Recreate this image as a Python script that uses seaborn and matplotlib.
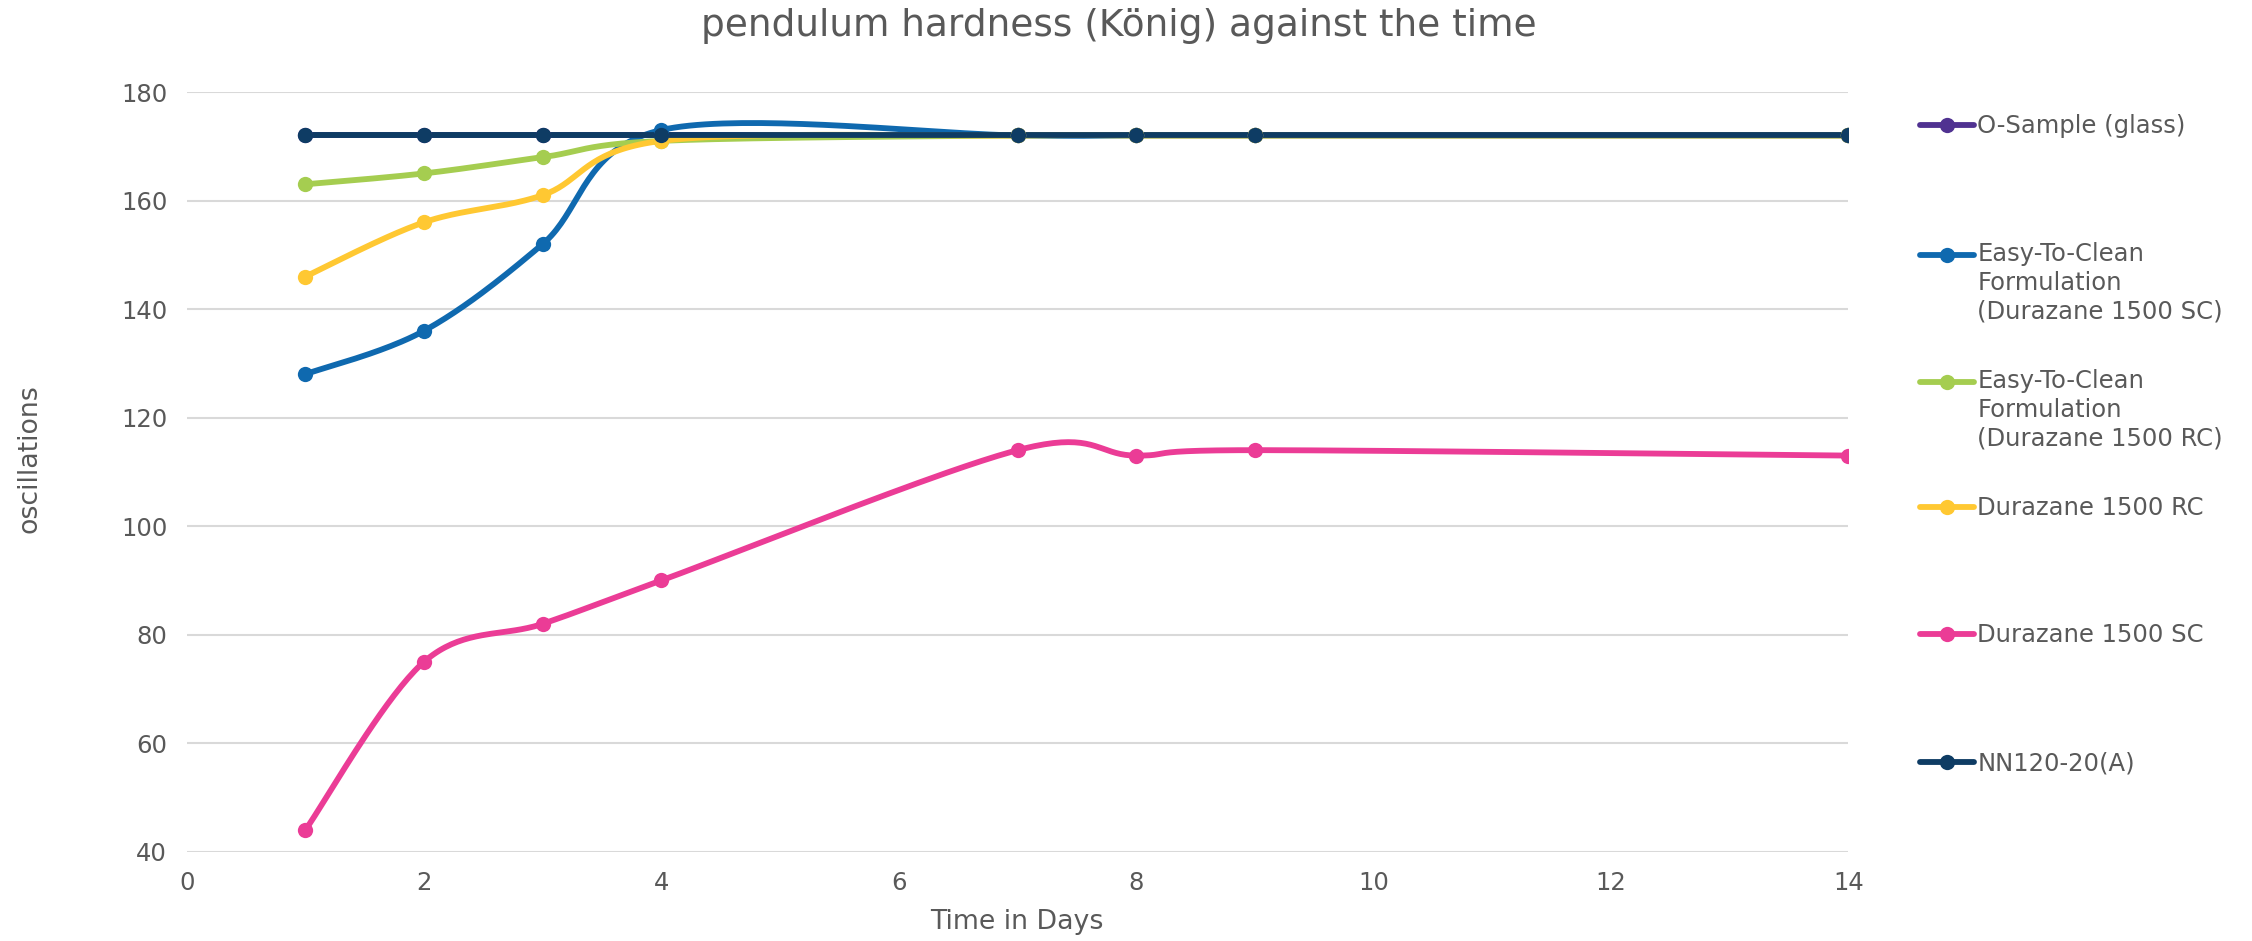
import numpy as np
import pandas as pd
import matplotlib
matplotlib.use("Agg")
import matplotlib.pyplot as plt
from matplotlib.lines import Line2D
import seaborn as sns

# ---- data ----
days = [1, 2, 3, 4, 7, 8, 9, 14]
o_sample = [172, 172, 172, 172, 172, 172, 172, 172]
etc_sc = [128, 136, 152, 173, 172, 172, 172, 172]
etc_rc = [163, 165, 168, 171, 172, 172, 172, 172]
dur_rc = [146, 156, 161, 171, 172, 172, 172, 172]
dur_sc = [44, 75, 82, 90, 114, 113, 114, 113]
nn120 = [172, 172, 172, 172, 172, 172, 172, 172]

series_names = ["O-Sample (glass)",
                "Easy-To-Clean\nFormulation\n(Durazane 1500 SC)",
                "Easy-To-Clean\nFormulation\n(Durazane 1500 RC)",
                "Durazane 1500 RC",
                "Durazane 1500 SC",
                "NN120-20(A)"]
series_values = [o_sample, etc_sc, etc_rc, dur_rc, dur_sc, nn120]
colors = ["#503291", "#0F69AF", "#A5CD50", "#FFC832", "#EB3C96", "#0E3C64"]

title = "pendulum hardness (König) against the time"
x_label = "Time in Days"
y_label = "oscillations"
x_ticks = [0, 2, 4, 6, 8, 10, 12, 14]
y_ticks = [40, 60, 80, 100, 120, 140, 160, 180]

TEXT = "#595959"
FS = 17.5


def smooth(xs, ys, n=40):
    """Excel-like smoothed line: cubic Bezier with Catmull-Rom control points."""
    P = np.column_stack([xs, ys]).astype(float)
    out = []
    m = len(P)
    for i in range(m - 1):
        p0 = P[i - 1] if i > 0 else P[i]
        p1, p2 = P[i], P[i + 1]
        p3 = P[i + 2] if i + 2 < m else P[i + 1]
        c1 = p1 + (p2 - p0) / 6.0
        c2 = p2 - (p3 - p1) / 6.0
        t = np.linspace(0, 1, n)[:, None]
        seg = ((1 - t) ** 3) * p1 + 3 * ((1 - t) ** 2) * t * c1 + 3 * (1 - t) * t ** 2 * c2 + t ** 3 * p2
        out.append(seg if i == 0 else seg[1:])
    return np.vstack(out)


sns.set_theme(style="white")
plt.rcParams["font.family"] = ["DejaVu Sans"]

fig = plt.figure(figsize=(22.52, 9.41), dpi=100)
ax = fig.add_axes([0.0829, 0.0949, 0.8208 - 0.0829, 0.9022 - 0.0949])

lw = 4.2
ms = 11
handles = []
for name, vals, col in zip(series_names, series_values, colors):
    curve = smooth(days, vals)
    cdf = pd.DataFrame({"x": curve[:, 0], "y": curve[:, 1]})
    sns.lineplot(data=cdf, x="x", y="y", ax=ax, color=col, linewidth=lw,
                 sort=False, estimator=None, solid_capstyle="round")
    pdf = pd.DataFrame({"x": days, "y": vals})
    sns.scatterplot(data=pdf, x="x", y="y", ax=ax, color=col, s=ms ** 2,
                    edgecolor=col, linewidth=0, zorder=3)
    handles.append(Line2D([], [], color=col, linewidth=lw, marker="o",
                          markersize=ms, markeredgewidth=0))

ax.set_xlim(0, 14)
ax.set_ylim(40, 180)
ax.set_xticks(x_ticks)
ax.set_yticks(y_ticks)
ax.set_xticklabels([str(v) for v in x_ticks], fontsize=FS, color=TEXT)
ax.set_yticklabels([str(v) for v in y_ticks], fontsize=FS, color=TEXT)
ax.tick_params(axis="both", length=0)
ax.tick_params(axis="y", pad=14)
ax.tick_params(axis="x", pad=14)
ax.set_xlabel("")
ax.set_ylabel("")
ax.grid(axis="y", color="#D9D9D9", linewidth=1.5)
ax.grid(axis="x", visible=False)
ax.set_axisbelow(True)
for s in ax.spines.values():
    s.set_visible(False)

fig.text(0.497, 0.972, title, ha="center", va="center", fontsize=27, color=TEXT)
fig.text(0.4516, 0.02, x_label, ha="center", va="center", fontsize=19.3, color=TEXT)
fig.text(0.0129, 0.513, y_label, ha="center", va="center", rotation=90,
         fontsize=19.3, color=TEXT)

# legend: one entry per slot, handle aligned with first text line
leg_y = [0.866, 0.730, 0.595, 0.460, 0.325, 0.189]
for h, name, y in zip(handles, series_names, leg_y):
    n_extra = name.count("\n")
    label = "\n" * n_extra + name
    leg = fig.legend(handles=[h], labels=[label], loc="center left",
                     bbox_to_anchor=(0.8526, y), frameon=False, fontsize=FS,
                     handlelength=2.2, handletextpad=0.15, borderpad=0,
                     borderaxespad=0, labelcolor=TEXT)
    for t in leg.get_texts():
        t.set_linespacing(1.25)

fig.savefig("out.png", dpi=100)
